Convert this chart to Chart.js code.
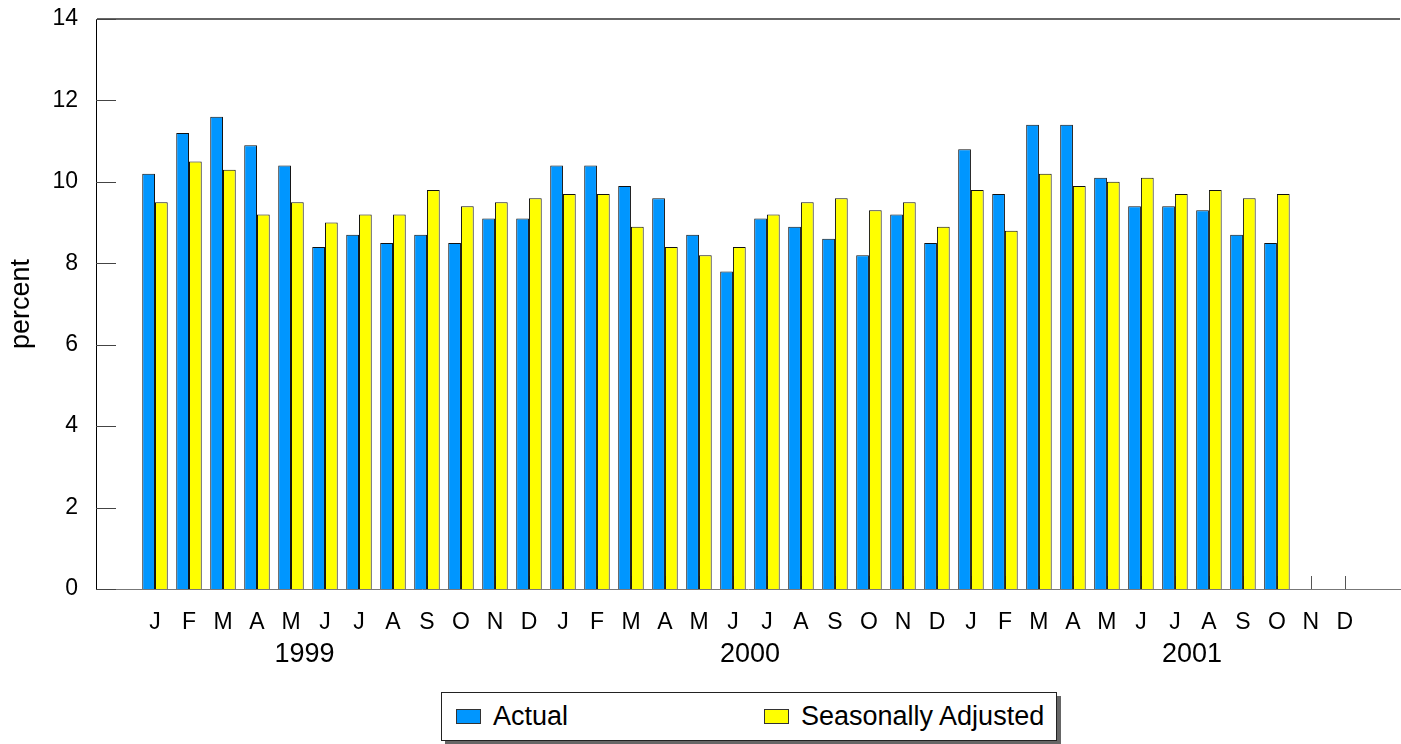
<!DOCTYPE html>
<html>
<head>
<meta charset="utf-8">
<script src="https://cdn.jsdelivr.net/npm/chart.js@4.4.1/dist/chart.umd.min.js"></script>
<style>
    body { margin: 0; background: #fff; font-family: "Liberation Sans", Arial, sans-serif; }
    #wrap { position: relative; width: 1401px; height: 744px; }
    #box { position: absolute; left: 0; top: 0; width: 1401px; height: 680px; }
    #legend {
        position: absolute; left: 441px; top: 692px; width: 614px; height: 47px;
        border: 1px solid #222; background: #fff; box-shadow: 4px 4px 0 #666;
        font-size: 27px; color: #000;
    }
    .item { position: absolute; top: 0; height: 47px; display: flex; align-items: center; }
    .sw { width: 23px; height: 13px; border: 1px solid #333; margin-right: 12px; }
</style>
</head>
<body>
<div id="wrap">
    <div id="box"><canvas id="chart"></canvas></div>
    <div id="legend"></div>
</div>
<script>
// ===== Data =====
const monthLabels = [
    "J", "F", "M", "A", "M", "J", "J", "A", "S", "O", "N", "D",
    "J", "F", "M", "A", "M", "J", "J", "A", "S", "O", "N", "D",
    "J", "F", "M", "A", "M", "J", "J", "A", "S", "O", "N", "D"
];
const yearLabels = ["1999", "2000", "2001"];
const yearTickAt = [4.4, 17.5, 30.5];

const actual = [
    10.2, 11.2, 11.6, 10.9, 10.4, 8.4, 8.7, 8.5, 8.7, 8.5, 9.1, 9.1,
    10.4, 10.4, 9.9, 9.6, 8.7, 7.8, 9.1, 8.9, 8.6, 8.2, 9.2, 8.5,
    10.8, 9.7, 11.4, 11.4, 10.1, 9.4, 9.4, 9.3, 8.7, 8.5, null, null
];
const seasonallyAdjusted = [
    9.5, 10.5, 10.3, 9.2, 9.5, 9.0, 9.2, 9.2, 9.8, 9.4, 9.5, 9.6,
    9.7, 9.7, 8.9, 8.4, 8.2, 8.4, 9.2, 9.5, 9.6, 9.3, 9.5, 8.9,
    9.8, 8.8, 10.2, 9.9, 10.0, 10.1, 9.7, 9.8, 9.6, 9.7, null, null
];
const yTicks = [0, 2, 4, 6, 8, 10, 12, 14];

// ===== Helpers =====
const FONT = "'Liberation Sans', Arial, sans-serif";
const X_MIN = -1.735;
const X_MAX = 36.62;

function toPoints(arr) {
    return arr.map((v, i) => ({ x: i, y: v }));
}

function noSidePadding(s) {
    s.paddingLeft = 0;
    s.paddingRight = 0;
    s.paddingTop = 0;
    s.paddingBottom = 0;
}

// inward tick marks (drawn under the bars)
const innerTicks = {
    id: "innerTicks",
    beforeDatasetsDraw(chart) {
        const { ctx, chartArea, scales } = chart;
        ctx.save();
        ctx.lineWidth = 1;
        ctx.strokeStyle = "#444";
        yTicks.forEach(v => {
            const y = Math.round(scales.y.getPixelForValue(v)) + 0.5;
            ctx.beginPath();
            ctx.moveTo(chartArea.left, y);
            ctx.lineTo(chartArea.left + 20, y);
            ctx.stroke();
        });
        ctx.strokeStyle = "#555";
        monthLabels.forEach((m, i) => {
            const x = Math.round(scales.x.getPixelForValue(i)) + 0.5;
            ctx.beginPath();
            ctx.moveTo(x, chartArea.bottom);
            ctx.lineTo(x, chartArea.bottom - 13);
            ctx.stroke();
        });
        ctx.restore();
    }
};

const ctx = document.getElementById("chart").getContext("2d");
const chart = new Chart(ctx, {
    type: "bar",
    data: {
        datasets: [
            {
                label: "Actual",
                data: toPoints(actual),
                backgroundColor: "#0096ff",
                borderColor: "#111",
                borderWidth: 1,
                categoryPercentage: 0.75,
                barPercentage: 1.0,
            },
            {
                label: "Seasonally Adjusted",
                data: toPoints(seasonallyAdjusted),
                backgroundColor: "#ffff00",
                borderColor: "#111",
                borderWidth: 1,
                categoryPercentage: 0.75,
                barPercentage: 1.0,
            },
        ],
    },
    options: {
        responsive: true,
        maintainAspectRatio: false,
        animation: false,
        layout: { padding: { top: 19, right: 1, left: 0, bottom: 0 } },
        plugins: {
            legend: { display: false },
            tooltip: { enabled: false },
        },
        scales: {
            x: {
                type: "linear",
                min: X_MIN,
                max: X_MAX,
                offset: false,
                weight: 0,
                grid: { display: false, drawTicks: false, tickLength: 0, offset: false },
                border: { display: true, color: "#777", width: 1 },
                afterBuildTicks: s => { s.ticks = monthLabels.map((m, i) => ({ value: i })); },
                afterFit: s => { noSidePadding(s); s.height = 48; },
                ticks: {
                    autoSkip: false,
                    maxRotation: 0,
                    padding: 20,
                    color: "#000",
                    font: { family: FONT, size: 23 },
                    callback: v => monthLabels[v],
                },
            },
            years: {
                type: "linear",
                axis: "x",
                position: "bottom",
                min: X_MIN,
                max: X_MAX,
                offset: false,
                weight: 1,
                grid: { display: false, drawTicks: false, tickLength: 0, offset: false },
                border: { display: false },
                afterBuildTicks: s => { s.ticks = yearTickAt.map(v => ({ value: v })); },
                afterFit: s => { noSidePadding(s); s.height = 43; },
                ticks: {
                    autoSkip: false,
                    maxRotation: 0,
                    padding: 1,
                    color: "#000",
                    font: { family: FONT, size: 27 },
                    callback: (v, i) => yearLabels[i],
                },
            },
            y: {
                min: 0,
                max: 14,
                afterFit: s => { noSidePadding(s); s.width = 96; },
                afterBuildTicks: s => { s.ticks = yTicks.map(v => ({ value: v })); },
                grid: {
                    drawTicks: false,
                    tickLength: 0,
                    color: c => (c.tick && c.tick.value === 14 ? "#666" : "rgba(0,0,0,0)"),
                    lineWidth: c => (c.tick && c.tick.value === 14 ? 2 : 0),
                },
                border: { display: true, color: "#000", width: 1 },
                title: {
                    display: true,
                    text: "percent",
                    color: "#000",
                    font: { family: FONT, size: 27, weight: "normal" },
                    padding: { top: 5, bottom: 0 },
                },
                ticks: {
                    padding: 18,
                    color: "#000",
                    font: { family: FONT, size: 23 },
                },
            },
        },
    },
    plugins: [innerTicks],
});

// ===== HTML legend =====
const legendEl = document.getElementById("legend");
const itemLeft = [14, 322];
chart.data.datasets.forEach((ds, i) => {
    const item = document.createElement("div");
    item.className = "item";
    item.style.left = itemLeft[i] + "px";
    item.innerHTML = `<span class="sw" style="background:${ds.backgroundColor}"></span><span>${ds.label}</span>`;
    legendEl.appendChild(item);
});
</script>
</body>
</html>
